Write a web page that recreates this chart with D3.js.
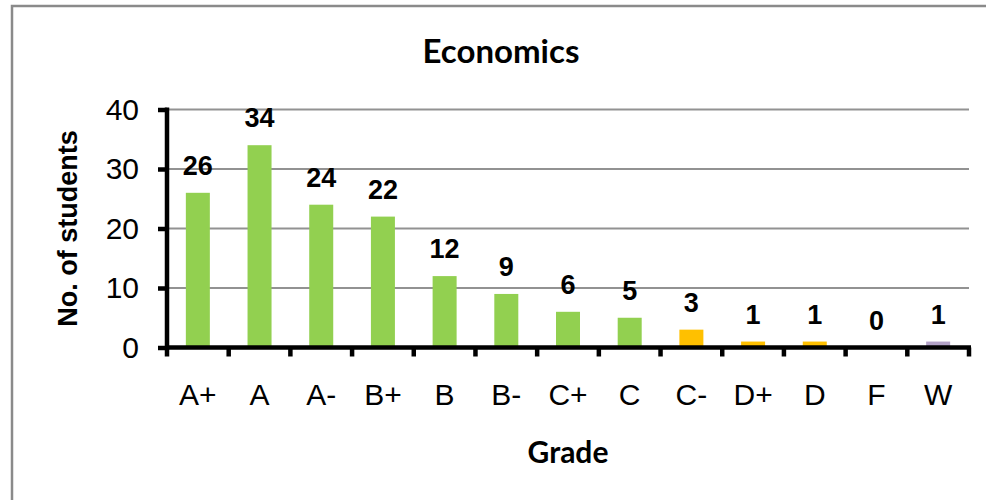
<!DOCTYPE html>
<html>
<head>
<meta charset="utf-8">
<script src="https://cdn.jsdelivr.net/npm/d3@7"></script>
<style>
  body { margin: 0; background: #fff; }
  svg { display: block; }
</style>
</head>
<body>
<div id="container"></div>
<script>
const WIDTH = 986;
const HEIGHT = 500;
const PLOT = { LEFT: 167, RIGHT: 969, TOP: 109.5, BOTTOM: 347.5 };

const grades = ['A+', 'A', 'A-', 'B+', 'B', 'B-', 'C+', 'C', 'C-', 'D+', 'D', 'F', 'W'];
const students = [26, 34, 24, 22, 12, 9, 6, 5, 3, 1, 1, 0, 1];
const barColors = ['#92d050', '#92d050', '#92d050', '#92d050', '#92d050', '#92d050', '#92d050',
                   '#92d050', '#ffc000', '#ffc000', '#ffc000', '#ffc000', '#b3a2c7'];
const yTicks = [0, 10, 20, 30, 40];

const svg = d3.select('#container')
              .append('svg')
                .attr('width', WIDTH)
                .attr('height', HEIGHT);

// outer chart frame (runs off the right and bottom edges)
svg.append('rect')
     .attr('x', 12)
     .attr('y', 6)
     .attr('width', 1000)
     .attr('height', 520)
     .attr('fill', '#fff')
     .attr('stroke', '#8a8a8a')
     .attr('stroke-width', 2.5);

const xscale = d3.scaleBand()
                 .domain(grades)
                 .range([PLOT.LEFT, PLOT.RIGHT]);

const yscale = d3.scaleLinear()
                 .domain([0, 40])
                 .range([PLOT.BOTTOM, PLOT.TOP]);

// gridlines
svg.append('g')
     .attr('class', 'grid')
   .selectAll('line')
   .data(yTicks.filter(d => d > 0))
   .enter()
   .append('line')
     .attr('x1', PLOT.LEFT)
     .attr('x2', PLOT.RIGHT)
     .attr('y1', d => yscale(d))
     .attr('y2', d => yscale(d))
     .attr('stroke', '#929292')
     .attr('stroke-width', 2);

// bars
const barWidth = 24;
svg.append('g')
   .selectAll('rect')
   .data(students)
   .enter()
   .append('rect')
     .attr('x', (d, i) => xscale(grades[i]) + xscale.bandwidth() / 2 - barWidth / 2)
     .attr('y', d => yscale(d))
     .attr('width', barWidth)
     .attr('height', d => yscale(0) - yscale(d))
     .attr('fill', (d, i) => barColors[i]);

// value labels
svg.append('g')
   .selectAll('text')
   .data(students)
   .enter()
   .append('text')
     .attr('x', (d, i) => xscale(grades[i]) + xscale.bandwidth() / 2)
     .attr('y', d => yscale(d) - 18)
     .attr('text-anchor', 'middle')
     .attr('font-family', 'Liberation Sans, Arial, sans-serif')
     .attr('font-weight', 'bold')
     .attr('font-size', 27)
     .attr('fill', '#000')
     .text(d => d);

// y axis
const axisLeft = d3.axisLeft(yscale)
                   .tickValues(yTicks)
                   .tickSize(9)
                   .tickPadding(19)
                   .tickSizeOuter(0);

const yAxis = svg.append('g')
                 .attr('class', 'axis axis--y')
                 .attr('transform', `translate(${PLOT.LEFT}, 0)`)
                 .call(axisLeft);

yAxis.select('.domain')
     .attr('d', `M0,${PLOT.TOP - 2}V${PLOT.BOTTOM + 2}`)
     .attr('stroke', '#000')
     .attr('stroke-width', 4.5);
yAxis.selectAll('.tick line')
     .attr('stroke', '#000')
     .attr('stroke-width', 4.5);
yAxis.selectAll('.tick text')
     .attr('font-family', 'Liberation Sans, Arial, sans-serif')
     .attr('font-size', 30)
     .attr('fill', '#000');

// x axis: ticks sit on category boundaries
const xAxis = svg.append('g')
                 .attr('class', 'axis axis--x')
                 .attr('transform', `translate(0, ${PLOT.BOTTOM})`);

xAxis.append('line')
       .attr('x1', PLOT.LEFT - 2)
       .attr('x2', PLOT.RIGHT + 2)
       .attr('stroke', '#000')
       .attr('stroke-width', 4.5);

xAxis.selectAll('.bound')
     .data(grades.concat(['end']))
     .enter()
     .append('line')
       .attr('class', 'bound')
       .attr('x1', (d, i) => i < grades.length ? xscale(d) : PLOT.RIGHT)
       .attr('x2', (d, i) => i < grades.length ? xscale(d) : PLOT.RIGHT)
       .attr('y1', 0)
       .attr('y2', 9)
       .attr('stroke', '#000')
       .attr('stroke-width', 4.5);

xAxis.selectAll('.label')
     .data(grades)
     .enter()
     .append('text')
       .attr('class', 'label')
       .attr('x', d => xscale(d) + xscale.bandwidth() / 2)
       .attr('y', 57)
       .attr('text-anchor', 'middle')
       .attr('font-family', 'Liberation Sans, Arial, sans-serif')
       .attr('font-size', 30)
       .attr('fill', '#000')
       .text(d => d);

// titles
svg.append('text')
     .attr('x', 501)
     .attr('y', 63)
     .attr('text-anchor', 'middle')
     .attr('font-family', 'Lato, sans-serif')
     .attr('font-weight', 'bold')
     .attr('font-size', 33)
     .text('Economics');

svg.append('text')
     .attr('x', (PLOT.LEFT + PLOT.RIGHT) / 2)
     .attr('y', 463)
     .attr('text-anchor', 'middle')
     .attr('font-family', 'Lato, sans-serif')
     .attr('font-weight', 'bold')
     .attr('font-size', 30)
     .text('Grade');

svg.append('text')
     .attr('transform', `translate(77, ${(PLOT.TOP + PLOT.BOTTOM) / 2}) rotate(-90)`)
     .attr('text-anchor', 'middle')
     .attr('font-family', 'Liberation Sans, Arial, sans-serif')
     .attr('font-weight', 'bold')
     .attr('font-size', 27)
     .text('No. of students');
</script>
</body>
</html>
